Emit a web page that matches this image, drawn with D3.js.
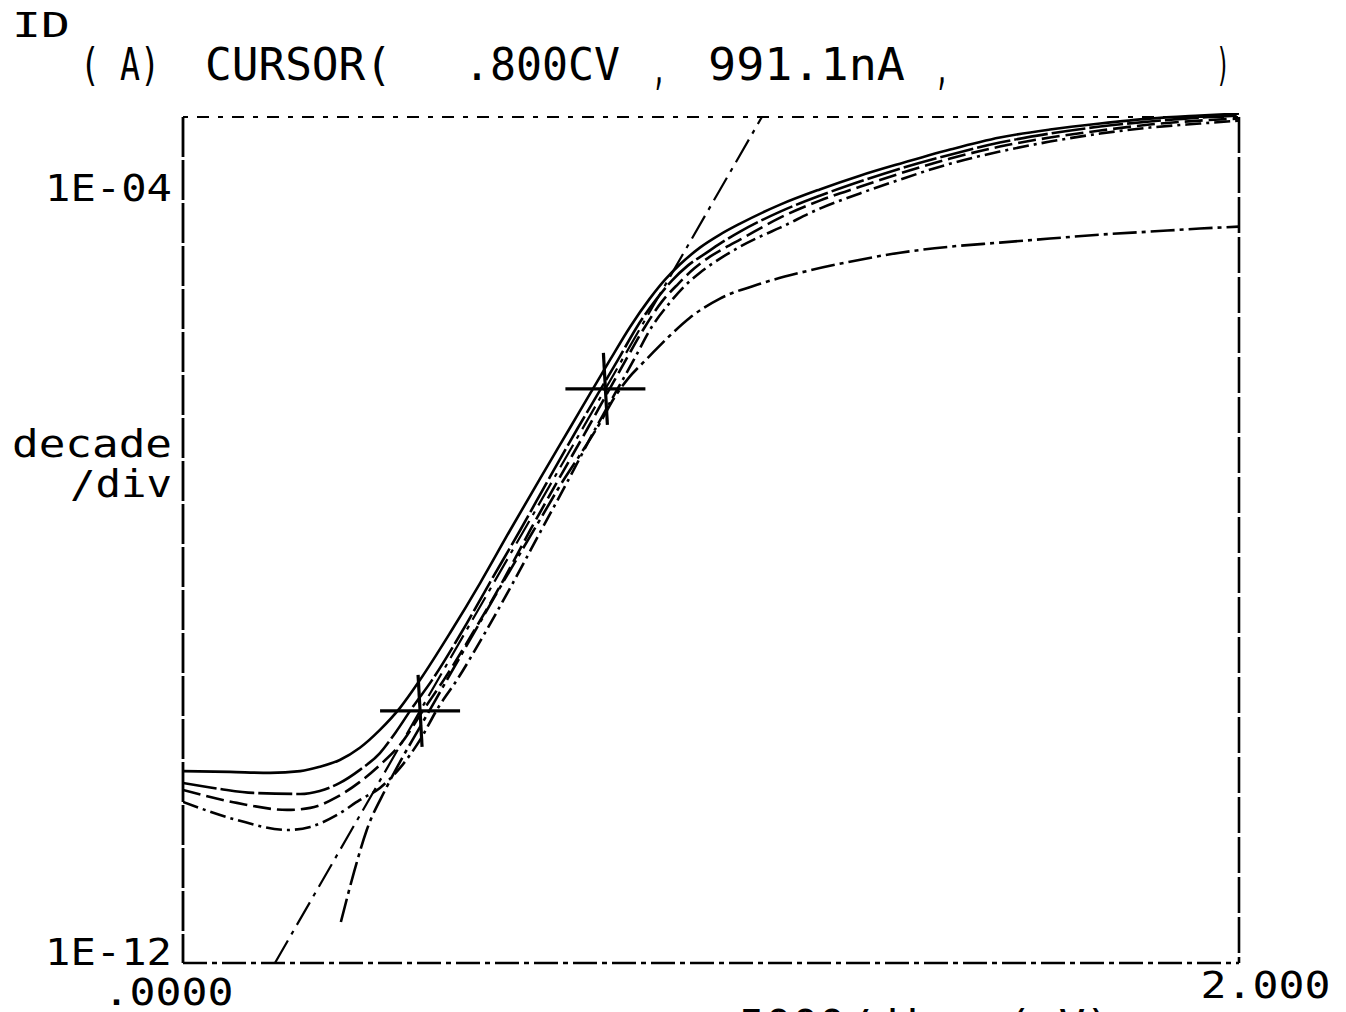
<!DOCTYPE html>
<html><head><meta charset="utf-8">
<script src="https://cdn.jsdelivr.net/npm/d3@7"></script>
<style>body{margin:0;background:#fff;} svg{display:block;}</style>
</head><body>
<svg id="c" width="1346" height="1012"></svg>
<script>
// ---------- data ----------
const xDomain = [0, 2];
const yDomain = [1e-12, 1e-4];
const xTickValues = [0, 2];
const xTickLabels = [".0000", "2.000"];
const yTickValues = [1e-12, 1e-4];
const yTickLabels = ["1E-12", "1E-04"];

const vA = [0, 0.089, 0.165, 0.222, 0.259, 0.297, 0.335, 0.373, 0.411, 0.449, 0.506, 0.563, 0.619, 0.676, 0.733, 0.771, 0.809, 0.847, 0.884, 0.913, 0.941, 0.979, 1.017, 1.055, 1.131, 1.206, 1.282, 1.358, 1.453, 1.547, 1.642, 1.737, 1.831, 1.926, 2.0];
const iA = [1.01e-10, 9.90e-11, 9.67e-11, 1.01e-10, 1.12e-10, 1.32e-10, 1.77e-10, 2.72e-10, 4.62e-10, 9.06e-10, 2.81e-9, 9.35e-9, 3.27e-8, 1.14e-7, 3.89e-7, 8.83e-7, 2.00e-6, 4.42e-6, 8.68e-6, 1.37e-5, 1.97e-5, 2.96e-5, 4.05e-5, 5.27e-5, 8.33e-5, 1.20e-4, 1.67e-4, 2.23e-4, 3.13e-4, 4.18e-4, 5.06e-4, 5.85e-4, 6.59e-4, 7.09e-4, 7.44e-4];

const vB = [0, 0.070, 0.133, 0.222, 0.259, 0.297, 0.335, 0.373, 0.402, 0.434, 0.472, 0.527, 0.581, 0.638, 0.693, 0.748, 0.786, 0.824, 0.860, 0.896, 0.926, 0.956, 0.989, 1.017, 1.055, 1.131, 1.206, 1.282, 1.358, 1.453, 1.547, 1.642, 1.737, 1.831, 1.926, 2.0];
const iB = [7.60e-11, 6.58e-11, 5.98e-11, 5.83e-11, 6.27e-11, 7.60e-11, 1.04e-10, 1.56e-10, 2.53e-10, 4.62e-10, 9.06e-10, 2.81e-9, 9.35e-9, 3.27e-8, 1.14e-7, 3.89e-7, 8.83e-7, 2.00e-6, 4.42e-6, 8.47e-6, 1.34e-5, 1.92e-5, 2.56e-5, 3.26e-5, 4.35e-5, 7.04e-5, 1.03e-4, 1.45e-4, 1.98e-4, 2.77e-4, 3.70e-4, 4.60e-4, 5.44e-4, 6.14e-4, 6.76e-4, 7.09e-4];

const vC = [0, 0.102, 0.197, 0.241, 0.292, 0.335, 0.373, 0.411, 0.458, 0.494, 0.549, 0.604, 0.657, 0.712, 0.767, 0.803, 0.839, 0.875, 0.907, 0.938, 0.968, 0.998, 1.027, 1.055, 1.131, 1.206, 1.282, 1.358, 1.453, 1.547, 1.642, 1.737, 1.831, 1.926, 2.0];
const iC = [6.42e-11, 4.70e-11, 3.97e-11, 4.17e-11, 5.43e-11, 7.79e-11, 1.17e-10, 1.90e-10, 4.62e-10, 9.06e-10, 2.81e-9, 9.35e-9, 3.27e-8, 1.14e-7, 3.89e-7, 8.83e-7, 2.00e-6, 4.42e-6, 8.07e-6, 1.24e-5, 1.79e-5, 2.38e-5, 2.96e-5, 3.59e-5, 6.09e-5, 9.17e-5, 1.28e-4, 1.76e-4, 2.52e-4, 3.36e-4, 4.18e-4, 4.94e-4, 5.71e-4, 6.28e-4, 6.60e-4];

const vD = [0, 0.102, 0.197, 0.241, 0.292, 0.335, 0.373, 0.411, 0.449, 0.483, 0.519, 0.572, 0.625, 0.678, 0.731, 0.782, 0.818, 0.854, 0.888, 0.919, 0.949, 0.979, 1.017, 1.055, 1.093, 1.131, 1.206, 1.282, 1.358, 1.453, 1.547, 1.642, 1.737, 1.831, 1.926, 2.0];
const iD = [4.81e-11, 3.12e-11, 2.45e-11, 2.64e-11, 3.52e-11, 5.05e-11, 6.74e-11, 1.09e-10, 2.14e-10, 4.62e-10, 9.06e-10, 2.81e-9, 9.35e-9, 3.27e-8, 1.14e-7, 3.89e-7, 8.83e-7, 2.00e-6, 4.42e-6, 7.51e-6, 1.16e-5, 1.62e-5, 2.27e-5, 3.03e-5, 3.86e-5, 4.79e-5, 7.57e-5, 1.09e-4, 1.52e-4, 2.23e-4, 2.98e-4, 3.79e-4, 4.60e-4, 5.31e-4, 5.85e-4, 6.28e-4];

const vE = [0.299, 0.324, 0.348, 0.383, 0.411, 0.449, 0.487, 0.525, 0.563, 0.600, 0.638, 0.676, 0.714, 0.752, 0.790, 0.818, 0.843, 0.875, 0.903, 0.928, 0.960, 1.017, 1.093, 1.169, 1.263, 1.358, 1.453, 1.547, 1.642, 1.737, 1.831, 1.926, 2.0];
const iE = [2.68e-12, 8.93e-12, 2.45e-11, 6.42e-11, 1.26e-10, 2.92e-10, 6.79e-10, 1.58e-9, 3.66e-9, 8.29e-9, 1.88e-8, 4.26e-8, 9.65e-8, 2.03e-7, 4.39e-7, 8.21e-7, 1.27e-6, 1.95e-6, 2.80e-6, 3.83e-6, 5.49e-6, 8.68e-6, 1.24e-5, 1.62e-5, 2.11e-5, 2.62e-5, 3.03e-5, 3.34e-5, 3.68e-5, 4.05e-5, 4.35e-5, 4.68e-5, 4.91e-5];

// cursor / marker points (line through them)
const markerV = [0.449, 0.800];
const markerI = [4.30e-10, 9.911e-7];

// ---------- layout ----------
const L = 183, R = 1239, B = 963, T = 117, Y04 = 197;
const FONT = "'DejaVu Sans Mono', 'Liberation Mono', monospace";
const svg = d3.select("#c");
const x = d3.scaleLinear().domain(xDomain).range([L, R]);
const y = d3.scaleLog().domain(yDomain).range([B, Y04]);

svg.append("defs").append("clipPath").attr("id", "clip")
  .append("rect").attr("x", L).attr("y", T - 4).attr("width", R - L).attr("height", B - T + 4);

const curves = [
  {v: vA, i: iA, dash: null},
  {v: vB, i: iB, dash: "34,4"},
  {v: vC, i: iC, dash: "18,6"},
  {v: vD, i: iD, dash: "16,5,3,5"},
  {v: vE, i: iE, dash: "24,5,4,5"}
];
const line = d3.line().x(d => x(d[0])).y(d => y(d[1])).curve(d3.curveMonotoneX);
const g = svg.append("g").attr("clip-path", "url(#clip)");
curves.forEach(c => {
  g.append("path").datum(c.v.map((v, k) => [v, c.i[k]]))
    .attr("d", line).attr("fill", "none").attr("stroke", "#000")
    .attr("stroke-width", 2.6).attr("stroke-dasharray", c.dash);
});

// tangent line through the two markers, extended across the frame
const lg0 = Math.log10(markerI[0]), lg1 = Math.log10(markerI[1]);
const slope = (lg1 - lg0) / (markerV[1] - markerV[0]);
const topI = y.invert(T);
const vLow = markerV[0] + (Math.log10(yDomain[0]) - lg0) / slope;
const vHigh = markerV[0] + (Math.log10(topI) - lg0) / slope;
g.append("path").datum([[vLow, yDomain[0]], [vHigh, topI]])
  .attr("d", d3.line().x(d => x(d[0])).y(d => y(d[1])))
  .attr("fill", "none").attr("stroke", "#000").attr("stroke-width", 2.2)
  .attr("stroke-dasharray", "26,7,4,7");

// cursor crosses
markerV.forEach((v, k) => {
  const cx = x(v), cy = y(markerI[k]);
  svg.append("line").attr("x1", cx - 40).attr("x2", cx + 40).attr("y1", cy).attr("y2", cy)
    .attr("stroke", "#000").attr("stroke-width", 3.2);
  svg.append("line").attr("x1", cx - 2).attr("x2", cx + 2).attr("y1", cy - 36).attr("y2", cy + 36)
    .attr("stroke", "#000").attr("stroke-width", 3.2);
});

// frame
const frame = svg.append("g").attr("fill", "none").attr("stroke", "#000");
frame.append("line").attr("x1", L).attr("x2", L).attr("y1", T).attr("y2", B).attr("stroke-width", 2.8).attr("stroke-dasharray", "40,3");
frame.append("line").attr("x1", L).attr("x2", R).attr("y1", B).attr("y2", B).attr("stroke-width", 2.4).attr("stroke-dasharray", "24,5,5,5");
frame.append("line").attr("x1", L).attr("x2", R).attr("y1", T).attr("y2", T).attr("stroke-width", 2.2).attr("stroke-dasharray", "5,9,12,9");
frame.append("line").attr("x1", R).attr("x2", R).attr("y1", T).attr("y2", B).attr("stroke-width", 2.6).attr("stroke-dasharray", "36,4");

// y axis labels (via d3 axis)
const yAxis = d3.axisLeft(y).tickValues(yTickValues).tickSize(0).tickPadding(11)
  .tickFormat((d, k) => yTickLabels[k]);
const ya = svg.append("g").attr("transform", `translate(${L},0)`).call(yAxis);
ya.select(".domain").remove();
ya.selectAll("text").attr("font-family", FONT).attr("font-size", 37).attr("fill", "#000")
  .attr("dy", (d, k) => k === 0 ? "0.05em" : "0.1em").attr("textLength", 127).attr("lengthAdjust", "spacingAndGlyphs");

// x axis labels
const xAxis = d3.axisBottom(x).tickValues(xTickValues).tickSize(0).tickPadding(14)
  .tickFormat((d, k) => xTickLabels[k]);
const xa = svg.append("g").attr("transform", `translate(0,${B})`).call(xAxis);
xa.select(".domain").remove();
xa.selectAll("text").attr("font-family", FONT).attr("font-size", 38).attr("fill", "#000")
  .attr("textLength", 130).attr("lengthAdjust", "spacingAndGlyphs")
  .attr("dx", (d, k) => k === 0 ? -15 : 26).attr("dy", (d, k) => k === 0 ? "0.74em" : "0.55em");

// texts
function txt(s, xx, yy, fs, len, anchor) {
  svg.append("text").attr("x", xx).attr("y", yy).attr("font-family", FONT)
    .attr("font-size", fs).attr("fill", "#000").attr("text-anchor", anchor || "start")
    .attr("textLength", len).attr("lengthAdjust", "spacingAndGlyphs")
    .attr("xml:space", "preserve").text(s);
}
txt("ID", 12, 37, 34, 58);
txt("( A)", 80, 80, 44, 80);
txt("CURSOR(", 205, 80, 44, 187);
txt(".800CV", 464, 80, 44, 156);
txt(",", 652, 84, 44, 14);
txt("991.1nA", 708, 80, 44, 197);
txt(",", 935, 84, 44, 14);
txt(")", 1216, 80, 44, 14);
txt("decade", 12, 457, 37, 160);
txt("/div", 70, 497, 37, 102);
txt(".5000/div  ( V)", 712, 1039, 40, 400);
</script>
</body></html>
